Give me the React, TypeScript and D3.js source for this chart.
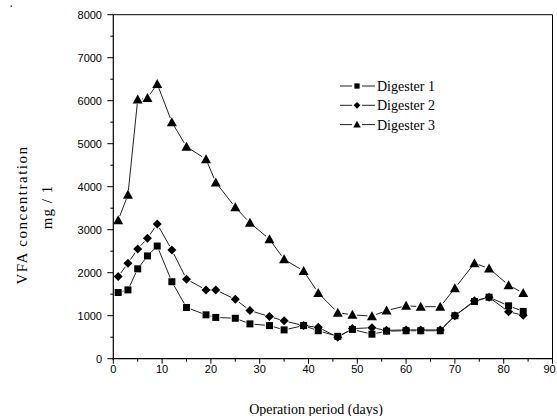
import React from "react";
import * as d3 from "d3";

const days = [1, 3, 5, 7, 9, 12, 15, 19, 21, 25, 28, 32, 35, 39, 42, 46, 49, 53, 56, 60, 63, 67, 70, 74, 77, 81, 84];
const digester1 = [1540, 1600, 2090, 2390, 2620, 1790, 1190, 1020, 960, 940, 810, 770, 670, 770, 650, 520, 680, 570, 640, 650, 650, 650, 1000, 1330, 1430, 1230, 1100];
const digester2 = [1910, 2220, 2550, 2800, 3130, 2530, 1850, 1600, 1600, 1380, 1120, 980, 880, 770, 730, 500, 700, 720, 660, 670, 670, 670, 1000, 1350, 1430, 1090, 1010];
const digester3 = [3220, 3810, 6030, 6060, 6390, 5500, 4930, 4640, 4100, 3520, 3160, 2780, 2310, 2040, 1530, 1070, 1020, 990, 1120, 1230, 1210, 1210, 1640, 2220, 2100, 1710, 1530];
const seriesNames = ["Digester 1", "Digester 2", "Digester 3"];
const xTicks = [0, 10, 20, 30, 40, 50, 60, 70, 80, 90];
const yTicks = [0, 1000, 2000, 3000, 4000, 5000, 6000, 7000, 8000];

const W = 557, H = 416;
const x = d3.scaleLinear().domain([0, 90]).range([113.3, 552.5]);
const y = d3.scaleLinear().domain([0, 8000]).range([358.7, 14.7]);

function Marker({ kind, cx, cy, s = 1 }: { kind: number; cx: number; cy: number; s?: number }) {
  if (kind === 0) return <rect x={cx - 3.5 * s} y={cy - 3.5 * s} width={7 * s} height={7 * s} fill="#000" />;
  if (kind === 1) return <path d={`M${cx},${cy - 4.5 * s}L${cx + 4.5 * s},${cy}L${cx},${cy + 4.5 * s}L${cx - 4.5 * s},${cy}Z`} fill="#000" />;
  return <path d={`M${cx},${cy - 5 * s}L${cx + 5 * s},${cy + 4 * s}L${cx - 5 * s},${cy + 4 * s}Z`} fill="#000" />;
}

function Series({ vals, kind }: { vals: number[]; kind: number }) {
  const pts = days.map((d, i) => [x(d), y(vals[i])] as [number, number]);
  const segs: React.ReactNode[] = [];
  const gap = 4.5;
  for (let i = 0; i < pts.length - 1; i++) {
    const [x1, y1] = pts[i], [x2, y2] = pts[i + 1];
    const len = Math.hypot(x2 - x1, y2 - y1);
    if (len <= gap * 2) continue;
    const ux = (x2 - x1) / len, uy = (y2 - y1) / len;
    segs.push(
      <line key={i} x1={x1 + ux * gap} y1={y1 + uy * gap} x2={x2 - ux * gap} y2={y2 - uy * gap} stroke="#222" strokeWidth={1} />
    );
  }
  return (
    <g>
      {segs}
      {pts.map(([cx, cy], i) => <Marker key={i} kind={kind} cx={cx} cy={cy} />)}
    </g>
  );
}

export default function App() {
  const all = [digester1, digester2, digester3];
  const minorX = d3.range(5, 90, 10);
  const minorY = d3.range(500, 8000, 1000);
  const x0 = x(0), y0 = y(0);
  return (
    <svg width={W} height={H} style={{ position: "absolute", left: 0, top: 0, background: "#fff" }}>
      <rect width={W} height={H} fill="#fff" />
      <text x={10} y={13} fontSize={11} fontFamily="Liberation Sans" fill="#000">‘</text>
      {/* frame */}
      <line x1={x0} y1={y(8000)} x2={x(90)} y2={y(8000)} stroke="#000" strokeWidth={1} />
      <line x1={x(90)} y1={y(8000)} x2={x(90)} y2={y0} stroke="#000" strokeWidth={1} />
      <line x1={x0} y1={y(8000)} x2={x0} y2={y0 + 1} stroke="#000" strokeWidth={1.2} />
      <line x1={x0 - 1} y1={y0} x2={x(90)} y2={y0} stroke="#000" strokeWidth={1.2} />
      {/* y ticks */}
      {yTicks.map((t) => (
        <g key={t}>
          <line x1={x0 - 6} x2={x0} y1={y(t)} y2={y(t)} stroke="#000" />
          <text x={102} y={y(t) + 4} textAnchor="end" fontSize={11} fontFamily="Liberation Sans" fill="#000">{t}</text>
        </g>
      ))}
      {minorY.map((t) => <line key={t} x1={x0 - 3} x2={x0} y1={y(t)} y2={y(t)} stroke="#000" />)}
      {/* x ticks */}
      {xTicks.map((t) => (
        <g key={t}>
          <line x1={x(t)} x2={x(t)} y1={y0} y2={y0 + 5} stroke="#000" />
          <text x={t === 90 ? x(t) - 3 : x(t)} y={y0 + 14} textAnchor="middle" fontSize={11} fontFamily="Liberation Sans" fill="#000">{t}</text>
        </g>
      ))}
      {minorX.map((t) => <line key={t} x1={x(t)} x2={x(t)} y1={y0} y2={y0 + 3} stroke="#000" />)}
      {/* series */}
      {all.map((v, k) => <Series key={k} vals={v} kind={k} />)}
      {/* legend */}
      {seriesNames.map((n, k) => {
        const ly = 86 + k * 19.3;
        return (
          <g key={n}>
            <line x1={340} x2={352} y1={ly} y2={ly} stroke="#222" />
            <line x1={362} x2={375} y1={ly} y2={ly} stroke="#222" />
            <Marker kind={k} cx={357} cy={ly} s={0.75} />
            <text x={377} y={ly + 5} fontSize={14} fontFamily="Liberation Serif" fill="#000">{n}</text>
          </g>
        );
      })}
      {/* axis titles */}
      <text x={316} y={414} textAnchor="middle" fontSize={14} fontFamily="Liberation Serif" fill="#000">Operation period (days)</text>
      <text transform="translate(27,215) rotate(-90)" textAnchor="middle" fontSize={15} letterSpacing={1.5} fontFamily="Liberation Serif" fill="#000">VFA concentration</text>
      <text transform="translate(52,207) rotate(-90)" textAnchor="middle" fontSize={15} letterSpacing={1} fontFamily="Liberation Serif" fill="#000">mg / 1</text>
    </svg>
  );
}
